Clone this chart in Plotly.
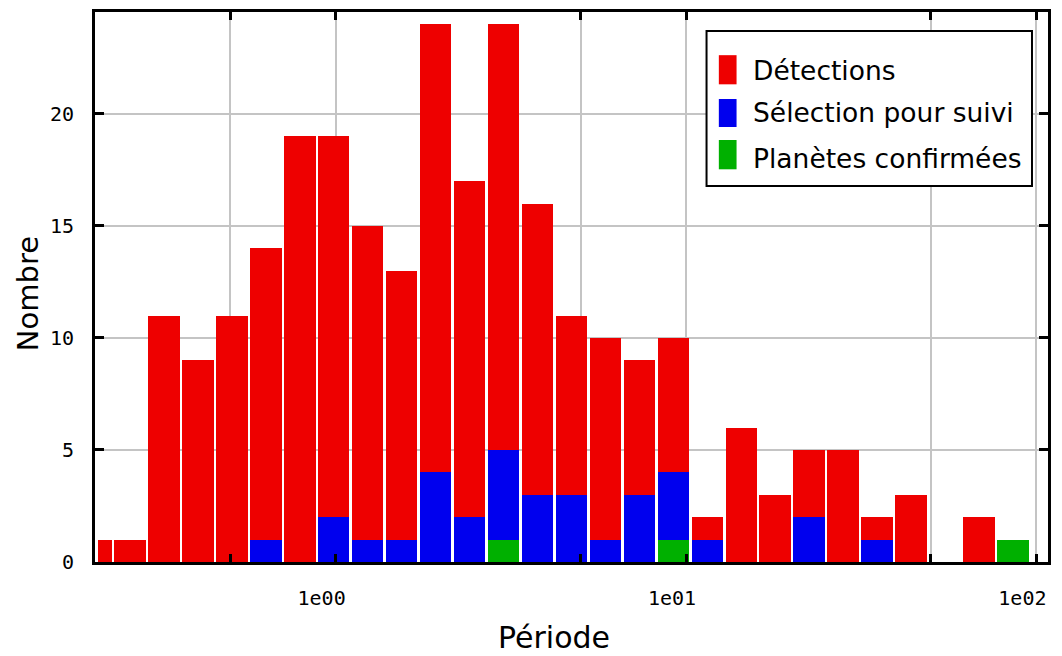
import math
import plotly.graph_objects as go

# Histogram bin edges (period, log-spaced bins)
bin_edges = [0.2084, 0.2316, 0.2895, 0.3619, 0.4523, 0.5654, 0.7068, 0.8835,
             1.1044, 1.3805, 1.7256, 2.157, 2.696, 3.370, 4.213, 5.266, 6.583,
             8.228, 10.285, 12.86, 16.07, 20.09, 25.11, 31.39, 39.24, 49.05,
             61.31, 76.64, 95.80]

detections = [1, 1, 11, 9, 11, 14, 19, 19, 15, 13, 24, 17, 24, 16, 11, 10, 9, 10,
              2, 6, 3, 5, 5, 2, 3, 0, 2, 1]
selection = [0, 0, 0, 0, 0, 1, 0, 2, 1, 1, 4, 2, 5, 3, 3, 1, 3, 4,
             1, 0, 0, 2, 0, 1, 0, 0, 0, 1]
confirmed = [0, 0, 0, 0, 0, 0, 0, 0, 0, 0, 0, 0, 1, 0, 0, 0, 0, 1,
             0, 0, 0, 0, 0, 0, 0, 0, 0, 1]

series_names = ["Détections", "Sélection pour suivi", "Planètes confirmées"]
series_colors = ["#EE0000", "#0000EE", "#00B000"]

x_tick_values = [0.5, 1, 5, 10, 50, 100]
x_tick_text = ["", "1e00", "", "1e01", "", "1e02"]
y_tick_values = [0, 5, 10, 15, 20]
x_title = "Période"
y_title = "Nombre"

# bins in log10 space
lo = [math.log10(v) for v in bin_edges[:-1]]
hi = [math.log10(v) for v in bin_edges[1:]]
centers = [(a + b) / 2 for a, b in zip(lo, hi)]
gap = 0.0072
widths = [(b - a) - gap for a, b in zip(lo, hi)]

fig = go.Figure()
for name, vals, col in zip(series_names, [detections, selection, confirmed], series_colors):
    fig.add_trace(go.Bar(x=centers, y=vals, width=widths, name=name,
                         marker=dict(color=col, line=dict(width=0)),
                         showlegend=False))

axis_common = dict(showline=True, linecolor="black", linewidth=3, mirror="ticks",
                   ticks="inside", tickcolor="black", tickwidth=3, automargin=False,
                   showgrid=True, gridcolor="#C4C4C4", gridwidth=2, zeroline=False,
                   tickfont=dict(family="DejaVu Sans Mono", size=20, color="black"))

fig.update_layout(
    width=1054, height=648,
    margin=dict(l=87, r=14, t=4, b=94),
    paper_bgcolor="white", plot_bgcolor="white",
    barmode="overlay",
    bargap=0,
    font=dict(family="DejaVu Sans", color="black"),
    xaxis=dict(type="linear", range=[-0.6867, 2.0331],
               tickvals=[math.log10(v) for v in x_tick_values], ticktext=x_tick_text,
               ticklen=8, ticklabelshift=-14, ticklabelstandoff=16,
               **axis_common),
    yaxis=dict(range=[0, 24.55], tickvals=y_tick_values, ticklen=9,
               ticklabelstandoff=14,
               **axis_common),
)

# Axis titles
fig.add_annotation(xref="paper", yref="paper", x=0.4816, y=-0.138, text=x_title,
                   showarrow=False, xanchor="center", yanchor="middle",
                   font=dict(family="DejaVu Sans", size=30, color="black"))
fig.add_annotation(xref="paper", yref="paper", x=-0.0703, y=0.487, text=y_title,
                   textangle=-90, showarrow=False, xanchor="center", yanchor="middle",
                   font=dict(family="DejaVu Sans", size=29, color="black"))

# Custom legend box (tall swatches as in the original)
shapes = [dict(type="rect", xref="paper", yref="paper", x0=0.6417, x1=0.9832,
               y0=0.6836, y1=0.9655, fillcolor="white", line=dict(color="black", width=2),
               layer="above")]
swatch_y = [(0.8685, 0.9215), (0.7909, 0.8418), (0.7140, 0.7673)]
text_y = [0.8945, 0.8164, 0.7345]
for (y0, y1), ty, name, col in zip(swatch_y, text_y, series_names, series_colors):
    shapes.append(dict(type="rect", xref="paper", yref="paper", x0=0.6546, x1=0.6732,
                       y0=y0, y1=y1, fillcolor=col, line=dict(width=0), layer="above"))
    fig.add_annotation(xref="paper", yref="paper", x=0.6880, y=ty, text=name,
                       showarrow=False, xanchor="left", yanchor="middle",
                       font=dict(family="DejaVu Sans", size=26.5, color="black"))
fig.update_layout(shapes=shapes)

fig.write_html("out.html")
